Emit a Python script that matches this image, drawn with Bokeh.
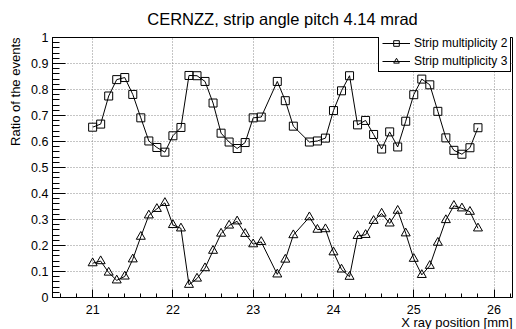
from bokeh.plotting import figure
from bokeh.models import SingleIntervalTicker, NumeralTickFormatter, Title, Range1d
from bokeh.embed import file_html
from bokeh.resources import INLINE

# Strip multiplicity 2
x_pos_2 = [21.0, 21.1, 21.2, 21.3, 21.4, 21.5, 21.6, 21.7, 21.8, 21.9,
           22.0, 22.1, 22.2, 22.3, 22.4, 22.5, 22.6, 22.7, 22.8, 22.9,
           23.0, 23.1, 23.3, 23.4, 23.5, 23.7, 23.8, 23.9,
           24.0, 24.1, 24.2, 24.3, 24.4, 24.5, 24.6, 24.7, 24.8, 24.9,
           25.0, 25.1, 25.2, 25.3, 25.4, 25.5, 25.6, 25.7, 25.8]
ratio_2 = [0.655, 0.667, 0.775, 0.838, 0.846, 0.781, 0.691, 0.602, 0.577, 0.559,
           0.622, 0.654, 0.854, 0.853, 0.831, 0.748, 0.632, 0.598, 0.573, 0.596,
           0.691, 0.694, 0.831, 0.757, 0.659, 0.598, 0.602, 0.613,
           0.719, 0.795, 0.853, 0.664, 0.681, 0.627, 0.571, 0.637, 0.579, 0.678,
           0.780, 0.840, 0.818, 0.716, 0.614, 0.566, 0.551, 0.576, 0.653]

# Strip multiplicity 3
x_pos_3 = list(x_pos_2)
ratio_3 = [0.132, 0.140, 0.096, 0.066, 0.081, 0.147, 0.234, 0.316, 0.341, 0.364,
           0.279, 0.266, 0.049, 0.073, 0.113, 0.180, 0.246, 0.277, 0.293, 0.245,
           0.205, 0.214, 0.089, 0.146, 0.240, 0.309, 0.261, 0.263,
           0.174, 0.108, 0.080, 0.237, 0.241, 0.295, 0.323, 0.285, 0.334, 0.247,
           0.149, 0.087, 0.122, 0.211, 0.298, 0.353, 0.343, 0.330, 0.266]

FONT = "Liberation Sans"

p = figure(width=516, height=329, output_backend="svg", toolbar_location=None,
           x_range=Range1d(20.5, 26.23), y_range=Range1d(0, 1),
           title="CERNZZ, strip angle pitch 4.14 mrad",
           min_border_left=50, min_border_right=4, min_border_top=37,
           min_border_bottom=32)
p.background_fill_color = "white"
p.border_fill_color = "white"
p.outline_line_color = "black"
p.outline_line_width = 1
p.outline_line_alpha = 1

p.title.text_font = FONT
p.title.text_font_size = "16.5px"
p.title.text_font_style = "normal"
p.title.text_color = "black"
p.title.align = "center"
p.title.vertical_align = "top"
p.title.standoff = 15

p.xaxis.ticker = SingleIntervalTicker(interval=1, num_minor_ticks=5)
p.yaxis.ticker = SingleIntervalTicker(interval=0.1, num_minor_ticks=5)
p.yaxis.formatter = NumeralTickFormatter(format="0.[0]")

for ax in (p.xaxis[0], p.yaxis[0]):
    ax.axis_line_color = "black"
    ax.major_tick_line_color = "black"
    ax.minor_tick_line_color = "black"
    ax.major_tick_out = 0
    ax.minor_tick_out = 0
    ax.major_label_text_font = FONT
    ax.major_label_text_font_size = "12.5px"
    ax.major_label_text_color = "black"
p.xaxis.major_tick_in = 8
p.xaxis.minor_tick_in = 4
p.xaxis.major_label_standoff = 7
p.yaxis.major_tick_in = 13
p.yaxis.minor_tick_in = 7
p.yaxis.major_label_standoff = 4

p.grid.grid_line_color = "#8a8a8a"
p.grid.grid_line_dash = "1 2"
p.grid.grid_line_width = 1

p.line(x_pos_2, ratio_2, line_color="black", line_width=1, legend_label="Strip multiplicity 2")
p.scatter(x_pos_2, ratio_2, marker="square", size=8, fill_color=None, line_color="black",
          line_width=1, legend_label="Strip multiplicity 2")
p.line(x_pos_3, ratio_3, line_color="black", line_width=1, legend_label="Strip multiplicity 3")
p.scatter(x_pos_3, ratio_3, marker="triangle", size=9, fill_color=None, line_color="black",
          line_width=1, legend_label="Strip multiplicity 3")

lg = p.legend[0]
lg.location = (326, 225)
lg.margin = 0
lg.padding = 3
lg.spacing = 4
lg.border_line_color = "black"
lg.border_line_width = 1
lg.border_line_alpha = 1
lg.background_fill_color = "white"
lg.background_fill_alpha = 1
lg.label_text_font = FONT
lg.label_text_font_size = "12px"
lg.label_text_color = "black"
lg.glyph_width = 28
lg.glyph_height = 14
lg.label_height = 14
lg.label_standoff = 4

p.add_layout(Title(text="X ray position [mm]", align="right", text_font=FONT,
                   text_font_size="13px", text_font_style="normal", text_color="black",
                   standoff=-7, offset=0), "below")
p.add_layout(Title(text="Ratio of the events", align="right", text_font=FONT,
                   text_font_size="13px", text_font_style="normal", text_color="black",
                   standoff=11, offset=0), "left")

open("out.html", "w").write(file_html(p, INLINE))
